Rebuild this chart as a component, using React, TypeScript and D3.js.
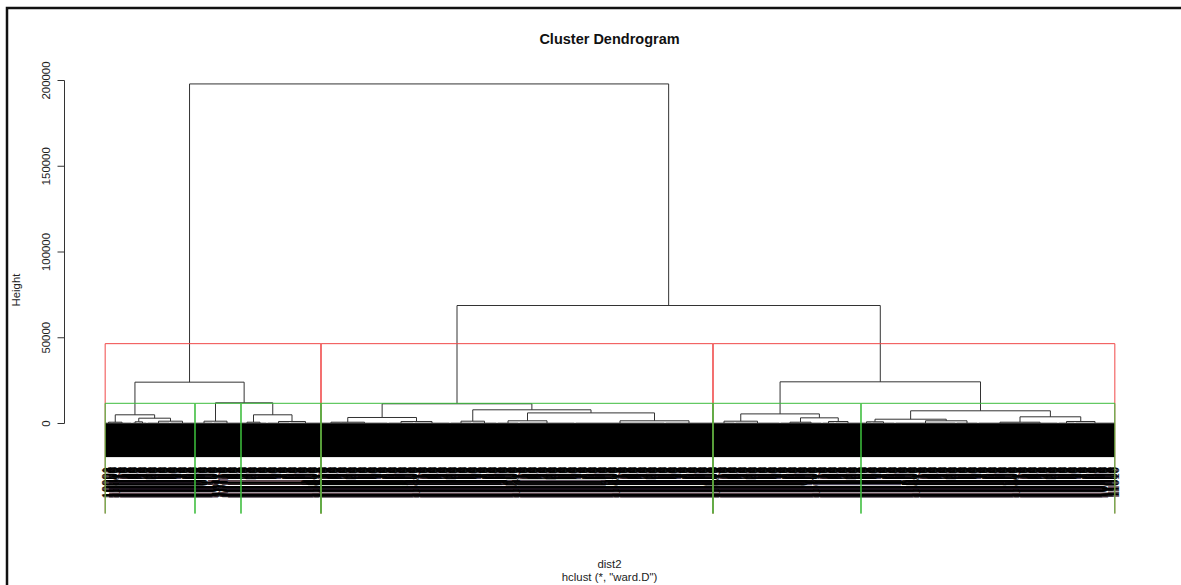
import React from "react";
import * as d3 from "d3";

// leaves in each low-level group, left to right (estimated from group widths)
const groupSizes = [
  7, 20, 6, 9, 23, 25, 18, 28, 12, 14, 23, 31,
  20, 47, 26, 36, 22, 25, 22, 56, 90, 48,
  22, 45, 20, 22, 13, 26, 11, 23, 61, 22, 44, 36, 17, 40,
];
// height where leaves of one group join (just above 0)
const groupHeight = 200;

// hclust style merges: negative = group (1-based), positive = earlier merge row, then height
const merges: [number, number, number][] = [
  [-1, -2, 760], [-3, -4, 990], [-5, -6, 1340], [-7, -8, 1340],
  [-9, -10, 760], [-11, -12, 1170], [-13, -14, 760], [-15, -16, 1170],
  [-17, -18, 1340], [-19, -20, 1570], [-21, -22, 1570], [-23, -24, 1340],
  [-25, -26, 760], [-27, -28, 1170], [-29, -30, 990], [-31, -32, 1570],
  [-33, -34, 760], [-35, -36, 1170],
  [2, 3, 3090], [1, 19, 5070], [5, 6, 5070], [4, 21, 12070], [20, 22, 24100],
  [7, 8, 3500], [10, 11, 6180], [9, 25, 7990], [24, 26, 11490],
  [13, 14, 3300], [12, 28, 5600], [15, 16, 2500], [17, 18, 3900],
  [30, 31, 7400], [29, 32, 24300], [27, 33, 68800], [23, 34, 198000],
];

const yTicks = [0, 50000, 100000, 150000, 200000];
const cutKs = [3, 6];
const cutColors = ["#f04848", "#3cbc3c"];

const title = "Cluster Dendrogram";
const xLab = "dist2";
const subLab = 'hclust (*, "ward.D")';
const yLab = "Height";

const W = 1181, H = 585;
const font = "'Liberation Sans', Arial, sans-serif";

const N = d3.sum(groupSizes);
const maxH = d3.max(merges, (m) => m[2])!;
const hang = 0.1 * maxH;
// leaf labels are unreadable in the picture: plain observation ids
const leafLabels = d3.range(N).map((i) => String(10001 + i));

const x = d3.scaleLinear().domain([0, N - 1]).range([105.5, 1114.5]);
const y = d3.scaleLinear().domain([0, 200000]).range([423.5, 80.5]);
const yBottom = y(-52500);

type TNode = { h: number; first: number; last: number; x: number; kids?: TNode[] };

function buildTree(): TNode {
  let next = 0;
  const make = (ref: number): TNode => {
    if (ref < 0) {
      const n = groupSizes[-ref - 1];
      const first = next;
      next += n;
      return { h: groupHeight, first, last: first + n - 1, x: (x(first) + x(first + n - 1)) / 2 };
    }
    const [a, b, h] = merges[ref - 1];
    const l = make(a), r = make(b);
    return { h, first: l.first, last: r.last, x: (l.x + r.x) / 2, kids: [l, r] };
  };
  return make(merges.length);
}

const root = buildTree();

const branchSegs: string[] = [];
const leafSegs: string[] = [];
(function walk(nd: TNode) {
  if (nd.kids) {
    const [l, r] = nd.kids;
    branchSegs.push(`M${l.x},${y(l.h)}V${y(nd.h)}H${r.x}V${y(r.h)}`);
    walk(l);
    walk(r);
  } else {
    branchSegs.push(`M${x(nd.first)},${y(nd.h)}H${x(nd.last)}`);
    for (let i = nd.first; i <= nd.last; i++) {
      leafSegs.push(`M${x(i)},${y(nd.h)}V${y(nd.h - hang)}`);
    }
  }
})(root);

const sortedH = merges.map((m) => m[2]).sort((a, b) => b - a);
function clusters(nd: TNode, cut: number): TNode[] {
  return nd.kids && nd.h > cut ? [...clusters(nd.kids[0], cut), ...clusters(nd.kids[1], cut)] : [nd];
}
const rects = cutKs.map((k, ci) => {
  const cut = (sortedH[k - 2] + sortedH[k - 1]) / 2;
  const d = clusters(root, cut)
    .map((c) => `M${x(c.first - 0.34)},${yBottom}V${y(cut)}H${x(c.last + 0.33)}V${yBottom}`)
    .join("");
  return { d, color: cutColors[ci] };
});

const labelTop = y(groupHeight - hang) + 10;
const axisX = 64.5;

export default function App() {
  return (
    <svg
      width={W}
      height={H}
      style={{ position: "absolute", left: 0, top: 0, background: "#fff" }}
      fontFamily={font}
    >
      <rect width={W} height={H} fill="#fff" />
      <path d={`M7,${H}V8H${W}`} fill="none" stroke="#111" strokeWidth={2.5} />

      <text x={609.5} y={44} textAnchor="middle" fontWeight="bold" fontSize={14.5} fill="#111">
        {title}
      </text>

      {/* y axis */}
      <path d={`M${axisX},${y(0)}V${y(200000)}`} stroke="#333" fill="none" />
      {yTicks.map((t) => (
        <g key={t}>
          <path d={`M${axisX - 7},${y(t)}H${axisX}`} stroke="#333" />
          <text
            transform={`translate(50,${y(t)}) rotate(-90)`}
            textAnchor="middle"
            fontSize={11.4}
            fill="#222"
          >
            {t}
          </text>
        </g>
      ))}
      <text transform={`translate(20,290) rotate(-90)`} textAnchor="middle" fontSize={11.4} fill="#222">
        {yLab}
      </text>

      {/* dendrogram */}
      <path d={leafSegs.join("")} stroke="#000" strokeWidth={1} fill="none" />
      <path d={branchSegs.join("")} stroke="#333" strokeWidth={1} fill="none" />
      <g fontSize={11.2} fill="#000">
        {leafLabels.map((lab, i) => (
          <text
            key={i}
            transform={`translate(${x(i)},${labelTop}) rotate(-90)`}
            textAnchor="end"
            dominantBaseline="central"
          >
            {lab}
          </text>
        ))}
      </g>

      {/* cluster rectangles */}
      {rects.map((r, i) => (
        <path key={i} d={r.d} fill="none" stroke={r.color} strokeWidth={1} />
      ))}

      <text x={609.5} y={568} textAnchor="middle" fontSize={11.4} fill="#222">
        {xLab}
      </text>
      <text x={609.5} y={580.5} textAnchor="middle" fontSize={11.4} fill="#222">
        {subLab}
      </text>
    </svg>
  );
}
